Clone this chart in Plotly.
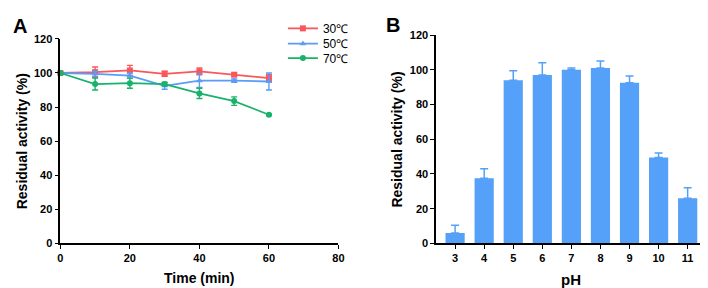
import plotly.graph_objects as go

# Panel A data: thermal stability
time_min = [0, 10, 20, 30, 40, 50, 60]
t30 = [100, 100.5, 101.5, 99.5, 101, 99, 97]
t30_err = [0.5, 3, 3, 1.5, 2, 1, 2]
t50 = [100, 99.5, 98.5, 92.5, 95.5, 95.5, 95]
t50_err = [0.5, 1.5, 1.5, 2, 4, 1, 5]
t70 = [100, 93.5, 94, 93.5, 88, 83.5, 75.5]
t70_err = [0.5, 3.5, 3, 1, 3, 2.5, 0.5]

# Panel B data: pH stability
ph = [3, 4, 5, 6, 7, 8, 9, 10, 11]
ph_act = [6, 37.5, 94, 97, 100, 101, 92.5, 49.5, 26]
ph_err = [4.5, 5.5, 5.5, 7, 1, 4, 4, 2.5, 6]

series_names = ["30℃", "50℃", "70℃"]
colors = ["#F9575B", "#5A9CF8", "#19B26B"]
symbols = ["square", "triangle-up", "circle"]
bar_color = "#55A0F8"
legend_ids = ["legend", "legend2", "legend3"]

FONT = "Liberation Sans, Arial, sans-serif"

fig = go.Figure()
for name, ys, errs, col, sym, lg in zip(series_names, [t30, t50, t70],
                                         [t30_err, t50_err, t70_err], colors, symbols, legend_ids):
    fig.add_trace(go.Scatter(
        x=time_min, y=ys, name=name, mode="lines+markers",
        line=dict(color=col, width=1.8),
        marker=dict(symbol=sym, size=6, color=col),
        error_y=dict(type="data", array=errs, color=col, thickness=1.4, width=3),
        cliponaxis=False, xaxis="x", yaxis="y", legend=lg))

fig.add_trace(go.Bar(
    x=ph, y=ph_act, marker=dict(color=bar_color, line=dict(width=0)),
    width=0.66, showlegend=False,
    error_y=dict(type="data", symmetric=False, array=ph_err,
                 arrayminus=[0]*len(ph_err), color=bar_color, thickness=1.5, width=4),
    xaxis="x2", yaxis="y2"))

axis_common = dict(showline=True, linecolor="black", linewidth=1.6,
                   ticks="outside", ticklen=4, tickwidth=1.4, tickcolor="black",
                   showgrid=False, zeroline=False,
                   tickfont=dict(family=FONT, size=11, color="black", weight="bold"))

legend_y_px = [15, 31, 46]
legend_layout = {}
for lg, ypx in zip(legend_ids, legend_y_px):
    legend_layout[lg] = dict(x=0.389, y=1 - ypx / 288, xanchor="left", yanchor="middle",
                             font=dict(family=FONT, size=12, color="black"),
                             bgcolor="rgba(0,0,0,0)", itemwidth=30)

fig.update_layout(
    width=708, height=288,
    margin=dict(l=0, r=0, t=0, b=0),
    paper_bgcolor="white", plot_bgcolor="white",
    showlegend=True,
    xaxis=dict(domain=[0.0706, 0.4685], range=[0, 80], tickvals=[0, 20, 40, 60, 80],
               anchor="y", **axis_common),
    yaxis=dict(domain=[0.169, 0.9097], range=[0, 120], tickvals=[0, 20, 40, 60, 80, 100, 120],
               anchor="x", **axis_common),
    xaxis2=dict(domain=[0.6083, 0.993], range=[2.35, 11.6], tickvals=ph,
                ticktext=[str(p) for p in ph], anchor="y2", **axis_common),
    yaxis2=dict(domain=[0.169, 0.9236], range=[0, 120], tickvals=[0, 20, 40, 60, 80, 100, 120],
                anchor="x2", **axis_common),
    bargap=0.34,
    **legend_layout,
)

title_font = dict(family=FONT, size=14, color="black", weight="bold")
annotations = [
    dict(text="A", x=9 / 708, y=1 - 13 / 288, font=dict(family=FONT, size=20, color="black", weight="bold")),
    dict(text="B", x=387 / 708, y=1 - 11 / 288, font=dict(family=FONT, size=20, color="black", weight="bold")),
    dict(text="Time (min)", x=191 / 708, y=1 - 275 / 288, font=title_font),
    dict(text="pH", x=567 / 708, y=1 - 277 / 288, font=dict(family=FONT, size=15, color="black", weight="bold")),
    dict(text="Residual activity (%)", x=12 / 708, y=1 - 133 / 288, textangle=-90, font=title_font),
    dict(text="Residual activity (%)", x=390 / 708, y=1 - 131 / 288, textangle=-90, font=title_font),
]
for a in annotations:
    a.update(xref="paper", yref="paper", xanchor="center", yanchor="middle", showarrow=False)
fig.update_layout(annotations=annotations)

fig.write_html("out.html")
